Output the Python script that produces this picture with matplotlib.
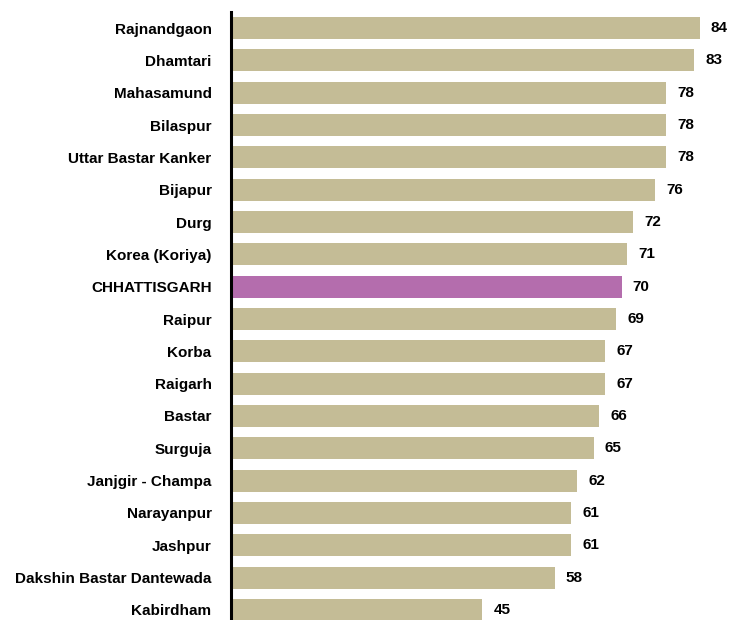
import matplotlib.pyplot as plt

districts = ["Rajnandgaon", "Dhamtari", "Mahasamund", "Bilaspur", "Uttar Bastar Kanker",
             "Bijapur", "Durg", "Korea (Koriya)", "CHHATTISGARH", "Raipur", "Korba",
             "Raigarh", "Bastar", "Surguja", "Janjgir - Champa", "Narayanpur", "Jashpur",
             "Dakshin Bastar Dantewada", "Kabirdham"]
values = [84, 83, 78, 78, 78, 76, 72, 71, 70, 69, 67, 67, 66, 65, 62, 61, 61, 58, 45]

plt.rcParams['font.family'] = ['Liberation Sans', 'DejaVu Sans']

fig = plt.figure(figsize=(7.29, 6.2), dpi=100)
ax = fig.add_axes([231 / 729, -6 / 620, 1 - 231 / 729, 614 / 620])

colors = ['#B46DAD' if d == "CHHATTISGARH" else '#C4BC96' for d in districts]
pos = list(range(len(districts)))
ax.barh(pos, values, height=0.68, color=colors, edgecolor='none')

for p, v in zip(pos, values):
    ax.text(v + 2.0, p, str(v), va='center', ha='left', fontsize=11, fontweight='bold')

ax.set_yticks(pos)
ax.set_yticklabels(districts, fontsize=11, fontweight='bold')
ax.tick_params(axis='y', length=0, pad=14)
ax.set_xticks([])
ax.set_xlim(0, 498 / 5.58)
ax.set_ylim(len(districts) - 0.5, -0.5)

for s in ['top', 'right', 'bottom']:
    ax.spines[s].set_visible(False)
ax.spines['left'].set_linewidth(2.2)
ax.spines['left'].set_color('black')

fig.savefig('out.png', dpi=100)
